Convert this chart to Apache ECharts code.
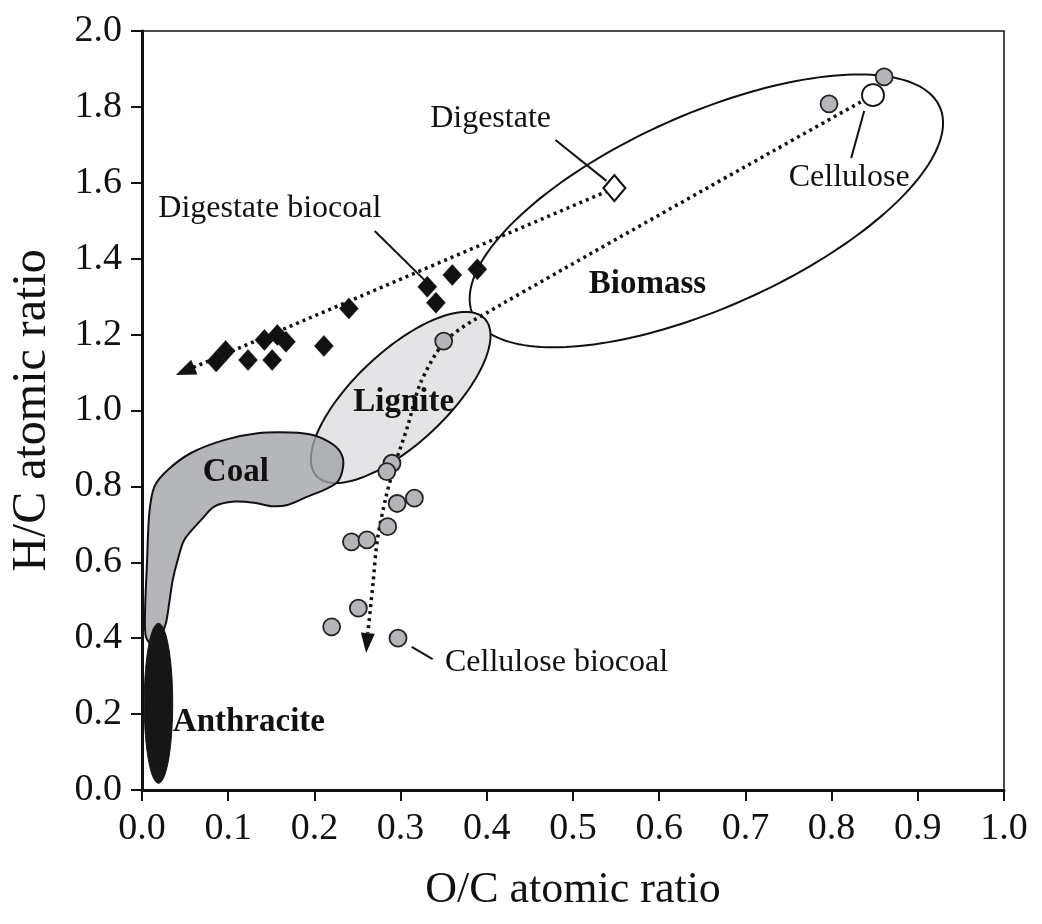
<!DOCTYPE html>
<html><head><meta charset="utf-8">
<script src="https://cdn.jsdelivr.net/npm/echarts@6/dist/echarts.min.js"></script>
<style>html,body{margin:0;padding:0;background:#fff}#c{width:1042px;height:924px}</style>
</head><body><div id="c"></div>
<script>
// ---- data (O/C, H/C) ----
const digestateBiocoal = [[0.086,1.129],[0.097,1.157],[0.123,1.133],[0.142,1.186],[0.151,1.133],[0.157,1.199],[0.167,1.181],[0.211,1.170],[0.240,1.269],[0.331,1.326],[0.341,1.284],[0.360,1.357],[0.389,1.372]];
const digestate = [[0.548,1.586]];
const cellulose = [[0.848,1.831]];
const celluloseBiocoal = [[0.861,1.879],[0.797,1.808],[0.350,1.183],[0.290,0.861],[0.284,0.839],[0.296,0.755],[0.316,0.769],[0.285,0.694],[0.243,0.654],[0.261,0.659],[0.251,0.479],[0.220,0.430],[0.297,0.400]];
const digestateTrend = [[0.548,1.586],[0.050,1.104]];
const celluloseTrend = [[0.848,1.831],[0.385,1.238],[0.350,1.178],[0.323,1.072],[0.308,0.957],[0.294,0.862],[0.283,0.772],[0.273,0.659],[0.268,0.545],[0.262,0.414]];
const celluloseArrow = [[0.262,0.414],[0.261,0.387]];
// regions: ellipse = [center, major-axis end, minor-axis end]
const biomassEllipse = [[0.6547,1.526],[0.9254,1.8005],[0.7008,1.294]];
const ligniteEllipse = [[0.3001,1.0343],[0.3977,1.2414],[0.3366,0.9452]];
const anthraciteEllipse = [[0.0191,0.2285],[0.0191,0.4392],[0.0356,0.2285]];
const coalOutline = [[0.0046,0.403],[0.0035,0.466],[0.0058,0.598],[0.0085,0.730],[0.0143,0.799],[0.0298,0.843],[0.0568,0.888],[0.095,0.922],[0.1341,0.940],[0.1727,0.942],[0.1993,0.935],[0.2225,0.909],[0.2326,0.878],[0.2326,0.843],[0.2268,0.812],[0.2152,0.795],[0.192,0.773],[0.1688,0.751],[0.1495,0.748],[0.1301,0.757],[0.107,0.760],[0.0838,0.747],[0.0684,0.711],[0.049,0.659],[0.0414,0.606],[0.0356,0.553],[0.0316,0.493],[0.0278,0.44],[0.022,0.408],[0.0127,0.382]];
// annotations
const leaderLines = [[[0.4797,1.713],[0.5388,1.605]],[[0.8378,1.789],[0.8227,1.665]],[[0.270,1.473],[0.329,1.341]],[[0.3129,0.377],[0.3372,0.345]]];
const noteTexts = ['Digestate','Cellulose','Digestate biocoal','Cellulose biocoal'];
const noteAt = [[0.4044,1.768],[0.8204,1.613],[0.1483,1.531],[0.4809,0.337]];
const regionTexts = ['Biomass','Lignite','Coal','Anthracite'];
const regionAt = [[0.5863,1.331],[0.3036,1.02],[0.1089,0.838],[0.124,0.179]];

const FONT = "'Liberation Serif','Times New Roman',serif";

function ellipseRender(def, style){
  return function(params, api){
    const c = api.coord(def[0]), a = api.coord(def[1]), b = api.coord(def[2]);
    const ax=a[0]-c[0], ay=a[1]-c[1], bx=b[0]-c[0], by=b[1]-c[1];
    const pts=[];
    for(let i=0;i<180;i++){const t=i/180*2*Math.PI;pts.push([c[0]+Math.cos(t)*ax+Math.sin(t)*bx,c[1]+Math.cos(t)*ay+Math.sin(t)*by]);}
    return {type:'polygon',shape:{points:pts},style:style};
  };
}
function textRender(texts, at, size, weight){
  return function(params, api){
    const i = params.dataIndex;
    const p = api.coord(at[i]);
    return {type:'text',x:p[0],y:p[1],style:{text:texts[i],fill:'#111',font:weight+' '+size+'px '+FONT,align:'center',verticalAlign:'middle'}};
  };
}

const series = [];
series.push({type:'custom',silent:true,clip:false,z:1,data:[biomassEllipse[0]],renderItem:ellipseRender(biomassEllipse,{fill:'none',stroke:'#111',lineWidth:2})});
series.push({type:'custom',silent:true,clip:false,z:2,data:[ligniteEllipse[0]],renderItem:ellipseRender(ligniteEllipse,{fill:'#e4e4e6',stroke:'#111',lineWidth:2})});
series.push({type:'custom',silent:true,clip:false,z:3,data:[coalOutline[0]],renderItem:function(params,api){
  const pts = coalOutline.map(p=>api.coord(p));
  return {type:'polygon',shape:{points:pts,smooth:0.3},style:{fill:'rgba(160,161,165,0.78)',stroke:'#111',lineWidth:2}};
}});
series.push({type:'custom',silent:true,clip:false,z:4,data:[anthraciteEllipse[0]],renderItem:ellipseRender(anthraciteEllipse,{fill:'#161616',stroke:'#111',lineWidth:1})});
// region labels
series.push({type:'custom',silent:true,clip:false,z:5,data:regionAt,renderItem:textRender(regionTexts,regionAt,33,'bold')});
series.push({type:'custom',silent:true,clip:false,z:5,data:noteAt,renderItem:textRender(noteTexts,noteAt,32,'normal')});
// leader lines
leaderLines.forEach(l=>series.push({type:'line',data:l,symbol:'none',silent:true,z:6,lineStyle:{color:'#111',width:2}}));
// trend lines
series.push({type:'line',data:digestateTrend,symbol:'none',silent:true,z:6,lineStyle:{color:'#111',width:3.5,type:[3,4]},
  markLine:{silent:true,symbol:['none','triangle'],symbolSize:[16,20],label:{show:false},lineStyle:{color:'#111',width:0.01,type:'solid'},
    data:[[{coord:digestateTrend[0]},{coord:digestateTrend[1]}]]}});
series.push({type:'line',data:celluloseTrend,smooth:0.3,symbol:'none',silent:true,z:6,lineStyle:{color:'#111',width:3.5,type:[3,4]},
  markLine:{silent:true,symbol:['none','triangle'],symbolSize:[14,20],label:{show:false},lineStyle:{color:'#111',width:0.01,type:'solid'},
    data:[[{coord:celluloseArrow[0]},{coord:celluloseArrow[1]}]]}});
// points
series.push({type:'scatter',data:digestateBiocoal,symbol:'diamond',symbolSize:[19,21],z:8,itemStyle:{color:'#111',borderColor:'#111',borderWidth:0.5,opacity:1}});
series.push({type:'scatter',data:digestate,symbol:'diamond',symbolSize:[22,26],z:8,itemStyle:{color:'#fff',borderColor:'#111',borderWidth:2,opacity:1}});
series.push({type:'scatter',data:celluloseBiocoal,symbol:'circle',symbolSize:17,z:8,itemStyle:{color:'#b4b5b8',borderColor:'#222',borderWidth:1.8,opacity:1}});
series.push({type:'scatter',data:cellulose,symbol:'circle',symbolSize:22,z:9,itemStyle:{color:'#fff',borderColor:'#111',borderWidth:1.8,opacity:1}});

const chart = echarts.init(document.getElementById('c'),null,{renderer:'canvas'});
chart.setOption({
  backgroundColor:'#fff',
  animation:false,
  grid:{left:141,right:38,top:31,bottom:134,show:true,borderColor:'#111',borderWidth:1.5,backgroundColor:'transparent'},
  xAxis:{type:'value',min:0,max:1,interval:0.1,
    name:'O/C atomic ratio',nameLocation:'middle',nameGap:78,nameTextStyle:{fontFamily:FONT,fontSize:44,color:'#111'},
    axisLine:{show:true,lineStyle:{color:'#111',width:3}},
    axisTick:{show:true,length:11,lineStyle:{color:'#111',width:2}},
    axisLabel:{fontFamily:FONT,fontSize:38,color:'#111',margin:20,formatter:v=>v.toFixed(1)},
    splitLine:{show:false}},
  yAxis:{type:'value',min:0,max:2,interval:0.2,
    name:'H/C atomic ratio',nameLocation:'middle',nameGap:86,nameTextStyle:{fontFamily:FONT,fontSize:48,color:'#111'},
    axisLine:{show:true,lineStyle:{color:'#111',width:3}},
    axisTick:{show:true,length:11,lineStyle:{color:'#111',width:2}},
    axisLabel:{fontFamily:FONT,fontSize:38,color:'#111',margin:20,formatter:v=>v.toFixed(1)},
    splitLine:{show:false}},
  series:series
});
</script></body></html>
